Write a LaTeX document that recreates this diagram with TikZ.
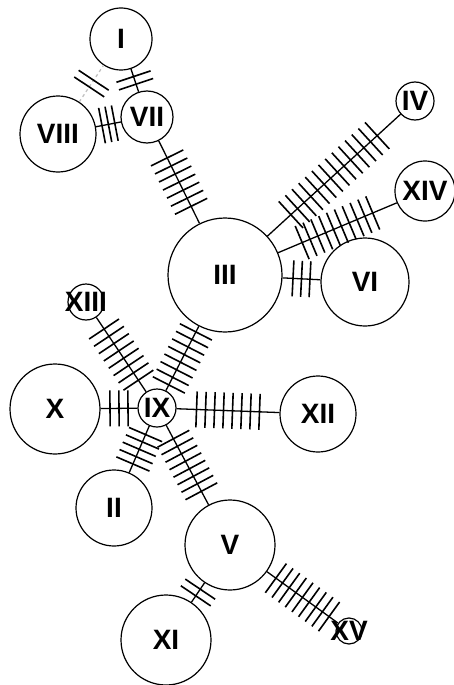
\documentclass[tikz,border=0pt]{standalone}
\usepackage{fontspec}
\setmainfont{Liberation Sans}
\usetikzlibrary{calc}
\tikzset{
  hap/.style={circle, draw, line width=1.2pt, inner sep=0pt},
  lab/.style={font=\fontsize{28}{30}\selectfont\bfseries, inner sep=0pt},
  edge/.style={line width=1.3pt},
  grayedge/.style={line width=1.2pt, draw=black!25, dashed},
  tickmark/.style={line width=1.6pt, line cap=butt}
}
% name, x, y, diameter, label
\newcommand\hapnode[5]{%
  \node[hap, minimum size=#4pt] (#1) at (#2,#3) {};
  \node[lab] (t#1) at (#1) {#5};
}
% spacing, edge style, from, to, number of ticks
\newcommand\hapedge[5]{%
  \draw[#2] (#3) -- coordinate[pos=0.5] (mid) (#4);
  \foreach \i in {1,...,#5}{
    \coordinate (tc) at ($(mid)!{(\i-(#5+1)/2)*#1}!(#4)$);
    \draw[tickmark] ($(tc)!18pt!90:(#4)$) -- ($(tc)!18pt!-90:(#4)$);
  }
}
\begin{document}
\begin{tikzpicture}[x=1pt,y=-1pt]
\path[use as bounding box, fill=white] (0,0) rectangle (454,685);
\hapnode{I}{121}{39}{62}{I}
\hapnode{VII}{147}{117}{52}{VII}
\hapnode{VIII}{58}{134}{76}{VIII}
\hapnode{III}{225}{275}{114}{III}
\hapnode{IV}{415}{101}{38}{IV}
\hapnode{XIV}{425}{191}{60}{XIV}
\hapnode{VI}{365}{282}{88}{VI}
\hapnode{XIII}{86}{302}{36}{XIII}
\hapnode{X}{55}{409}{90}{X}
\hapnode{IX}{157}{408}{38}{IX}
\hapnode{XII}{318}{414}{76}{XII}
\hapnode{II}{114}{508}{76}{II}
\hapnode{V}{230}{545}{90}{V}
\hapnode{XI}{166}{640}{90}{XI}
\hapnode{XV}{349}{631}{26}{XV}

\hapedge{8pt}{edge}{I}{VII}{2}
\hapedge{8pt}{grayedge}{VIII}{I}{2}
\hapedge{6.5pt}{edge}{VIII}{VII}{3}
\hapedge{9pt}{edge}{VII}{III}{7}
\hapedge{9pt}{edge}{III}{IV}{14}
\hapedge{8.5pt}{edge}{III}{XIV}{10}
\hapedge{8.5pt}{edge}{III}{VI}{3}
\hapedge{8.5pt}{edge}{III}{IX}{8}
\hapedge{8.8pt}{edge}{XIII}{IX}{8}
\hapedge{9pt}{edge}{X}{IX}{3}
\hapedge{9pt}{edge}{IX}{XII}{8}
\hapedge{8pt}{edge}{IX}{II}{5}
\hapedge{8.5pt}{edge}{IX}{V}{8}
\hapedge{8pt}{edge}{V}{XI}{2}
\hapedge{8.2pt}{edge}{V}{XV}{9}
\end{tikzpicture}
\end{document}
